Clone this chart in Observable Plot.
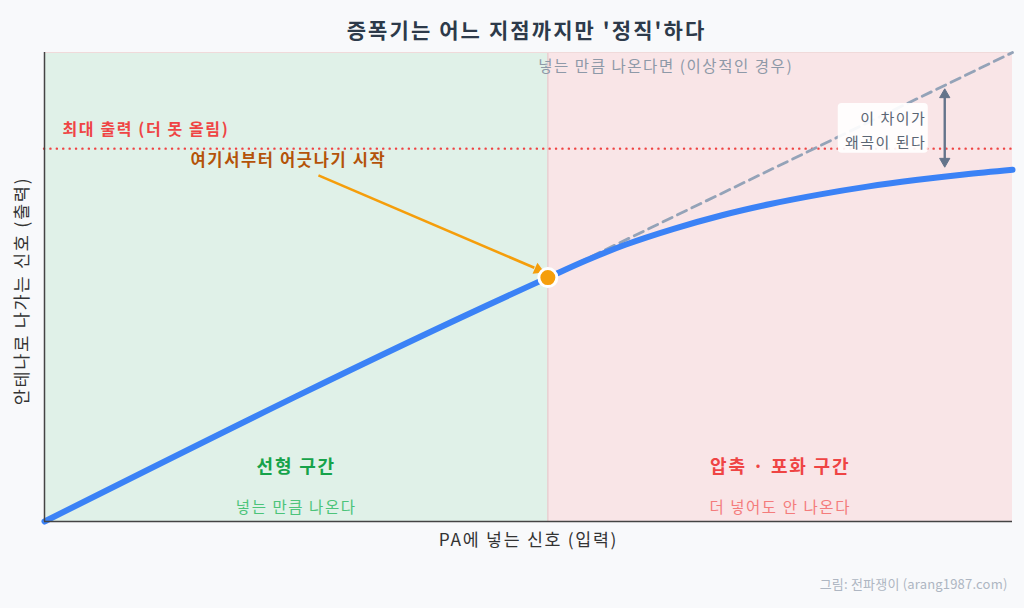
<!DOCTYPE html>
<html>
<head>
<meta charset="utf-8">
<script src="https://cdn.jsdelivr.net/npm/d3@7"></script>
<script src="https://cdn.jsdelivr.net/npm/@observablehq/plot@0.6"></script>
<style>
  html, body { margin: 0; padding: 0; background: #f8f9fb; }
  #chart { width: 1024px; height: 608px; }
</style>
</head>
<body>
<div id="chart"></div>
<script>
// ---- data ----
const title = "증폭기는 어느 지점까지만 '정직'하다";
const xLabel = "PA에 넣는 신호 (입력)";
const yLabel = "안테나로 나가는 신호 (출력)";
const credit = "그림: 전파쟁이 (arang1987.com)";

const kneeX = 0.52;
const kneeY = 0.52;
const maxOutput = 0.795;

// linear section
const linearX = [0, 0.52];
const linearY = [0, 0.52];
// compressed / saturated section
const satX = [0.52, 0.56, 0.60, 0.65, 0.70, 0.75, 0.80, 0.85, 0.90, 0.95, 1.00];
const satY = [0.52, 0.557, 0.590, 0.624, 0.653, 0.677, 0.697, 0.714, 0.728, 0.740, 0.750];
// ideal continuation
const idealX = [0.52, 1.0];
const idealY = [0.52, 1.0];

const regionNames = ["선형 구간", "압축 · 포화 구간"];
const regionSubs = ["넣는 만큼 나온다", "더 넣어도 안 나온다"];
const regionStart = [0, 0.52];
const regionEnd = [0.52, 1];

const maxLabel = "최대 출력 (더 못 올림)";
const kneeLabel = "여기서부터 어긋나기 시작";
const idealLabel = "넣는 만큼 나온다면 (이상적인 경우)";
const gapLabel = "이 차이가\n왜곡이 된다";

// annotation anchor points (data units)
const kneeArrowFrom = [0.283, 0.738];
const kneeArrowTo = [0.514, 0.533];
const gapX = 0.930;
const gapTop = 0.910;
const gapBottom = 0.768;

// ---- build tables ----
const outPts = linearX.map((x, i) => ({x, y: linearY[i]}))
  .concat(satX.slice(1).map((x, i) => ({x, y: satY[i + 1]})));
const idealPts = idealX.map((x, i) => ({x, y: idealY[i]}));
const regions = regionNames.map((n, i) => ({name: n, sub: regionSubs[i], x1: regionStart[i], x2: regionEnd[i], i}));
const regionFill = ["#e0f1e8", "#f9e5e7"];
const regionMain = ["#16a34a", "#ef4444"];
const regionSubC = ["#4cc47a", "#f47c7c"];

const font = "'Noto Sans CJK KR', 'Noto Sans', sans-serif";
const orange = "#f59e0b";
const slate = "#64748b";

const chart = Plot.plot({
  width: 1024,
  height: 608,
  marginLeft: 44,
  marginRight: 12,
  marginTop: 52,
  marginBottom: 87,
  x: {domain: [0, 1], axis: null},
  y: {domain: [0, 1], axis: null},
  style: {fontFamily: font, background: "#f8f9fb", overflow: "visible"},
  marks: [
    Plot.rect(regions, {x1: "x1", x2: "x2", y1: 0, y2: 1, fill: d => regionFill[d.i]}),
    Plot.ruleX([kneeX], {y1: 0, y2: 1, stroke: "#e3c9cb", strokeWidth: 1.2}),
    Plot.ruleY([1], {stroke: "#f0dada", strokeWidth: 1}),
    // max output dotted line
    Plot.ruleY([maxOutput], {stroke: "#ef4444", strokeWidth: 2.4, strokeDasharray: "0.1,6.3", strokeLinecap: "round"}),
    Plot.text([maxLabel], {x: 0.0186, y: 0.834, text: d => d, textAnchor: "start", fill: "#ef4444", fontSize: 16, fontWeight: "bold"}),
    // ideal dashed line
    Plot.line(idealPts, {x: "x", y: "y", stroke: "#94a3b8", strokeWidth: 2.8, strokeDasharray: "10,6"}),
    Plot.text([idealLabel], {x: 0.510, y: 0.968, text: d => d, textAnchor: "start", fill: "#8e99a8", fontSize: 15.5}),
    // actual output
    Plot.line(outPts, {x: "x", y: "y", stroke: "#3b82f6", strokeWidth: 6, curve: "monotone-x"}),
    // gap annotation
    Plot.rect([0], {x1: 0.820, x2: 0.913, y1: 0.785, y2: 0.891, fill: "white", fillOpacity: 0.92, rx: 4}),
    Plot.text([gapLabel], {x: 0.911, y: 0.838, text: d => d, textAnchor: "end", lineAnchor: "middle", lineHeight: 1.55, fill: "#5b6573", fontSize: 15}),
    Plot.link([0], {x1: gapX, x2: gapX, y1: gapBottom, y2: gapTop, stroke: slate, strokeWidth: 2.4}),
    Plot.dot([{x: gapX, y: gapTop, r: 0}, {x: gapX, y: gapBottom, r: 180}], {x: "x", y: "y", symbol: "triangle", r: 3.8, fill: slate, stroke: slate, strokeWidth: 1, rotate: "r"}),
    // knee arrow + dot
    Plot.link([0], {x1: kneeArrowFrom[0], y1: kneeArrowFrom[1], x2: kneeArrowTo[0] - 0.008, y2: kneeArrowTo[1] + 0.008, stroke: orange, strokeWidth: 2.6}),
    Plot.dot([{x: kneeArrowTo[0] - 0.004, y: kneeArrowTo[1] + 0.004}], {x: "x", y: "y", symbol: "triangle", r: 4.5, fill: orange, rotate: 113.6}),
    Plot.dot([{x: kneeX, y: kneeY}], {x: "x", y: "y", r: 9, fill: orange, stroke: "white", strokeWidth: 3}),
    Plot.text([kneeLabel], {x: 0.252, y: 0.770, text: d => d, fill: "#b45309", fontSize: 16.5, fontWeight: "bold"}),
    // region labels
    Plot.text(regions, {x: d => (d.x1 + d.x2) / 2, y: 0.115, text: "name", fill: d => regionMain[d.i], fontSize: 18, fontWeight: "bold"}),
    Plot.text(regions, {x: d => (d.x1 + d.x2) / 2, y: 0.028, text: "sub", fill: d => regionSubC[d.i], fontSize: 15.5}),
    // axes lines
    Plot.ruleX([0], {stroke: "#444", strokeWidth: 1.5}),
    Plot.ruleY([0], {stroke: "#444", strokeWidth: 1.5}),
    // axis labels
    Plot.text([xLabel], {frameAnchor: "bottom", dx: 0, dy: 24, text: d => d, fill: "#333", fontSize: 17.3}),
    Plot.text([yLabel], {frameAnchor: "left", textAnchor: "middle", dx: -22, dy: 4, rotate: -90, text: d => d, fill: "#333", fontSize: 17.5}),
    // title & credit
    Plot.text([title], {frameAnchor: "top", dx: -2, dy: -29, text: d => d, fill: "#2d3a4a", fontSize: 21, fontWeight: "bold"}),
    Plot.text([credit], {frameAnchor: "bottom-right", dx: -5, dy: 67, textAnchor: "end", text: d => d, fill: "#aeb6c2", fontSize: 13})
  ]
});
// letter spacing (style only)
d3.select(chart).selectAll("text").each(function () {
  const t = this.textContent;
  this.style.letterSpacing = t === credit ? "0.015em" : "0.1em";
});
document.getElementById("chart").appendChild(chart);
</script>
</body>
</html>
